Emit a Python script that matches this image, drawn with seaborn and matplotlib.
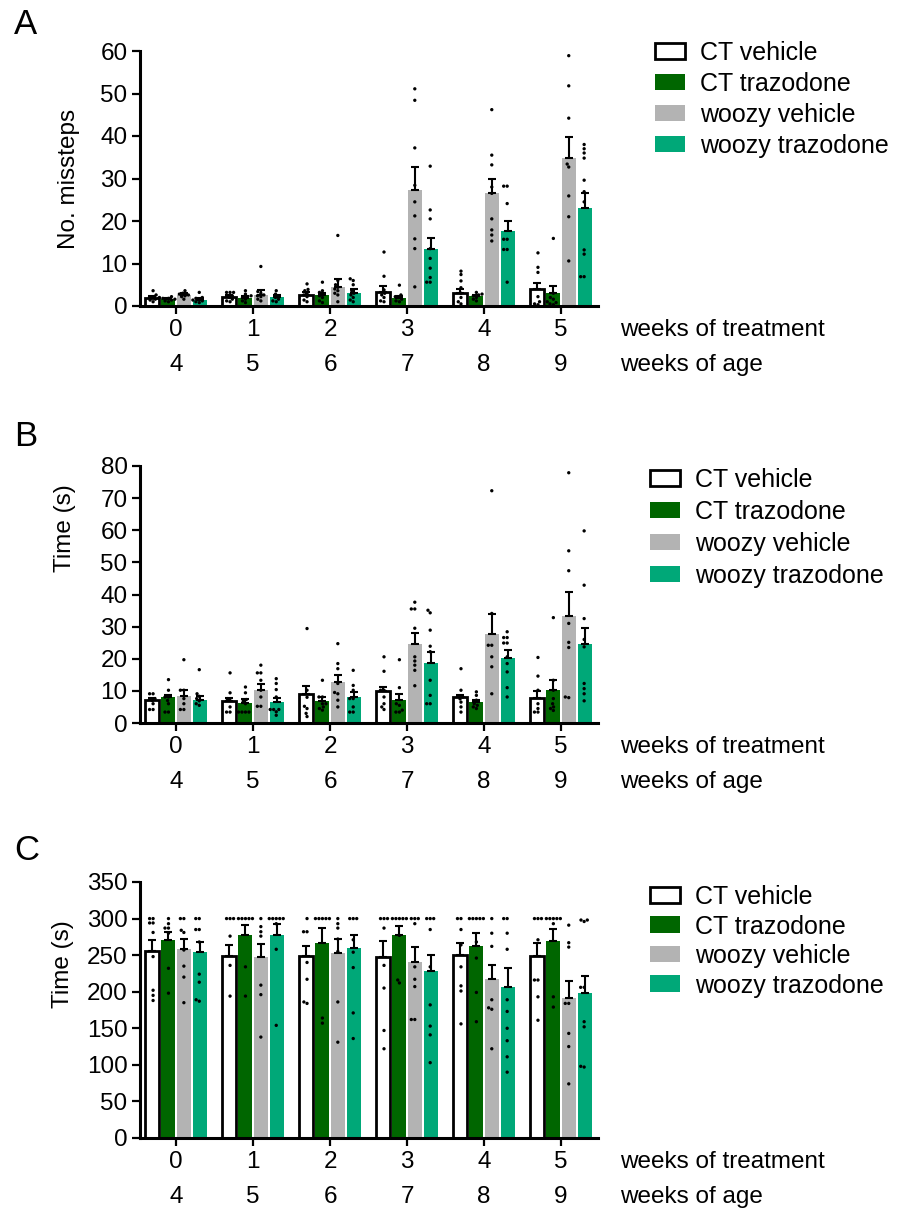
import numpy as np
import pandas as pd
import matplotlib
matplotlib.use("Agg")
import matplotlib.pyplot as plt
import seaborn as sns
from matplotlib.patches import Patch
from matplotlib import transforms as mtransforms
import warnings
warnings.filterwarnings("ignore")

sns.set_theme(style="ticks")
plt.rcParams['font.family'] = ['Liberation Sans', 'DejaVu Sans']
plt.rcParams['text.color'] = 'black'
plt.rcParams['axes.labelcolor'] = 'black'

GROUPS = ["CT vehicle", "CT trazodone", "woozy vehicle", "woozy trazodone"]
COLORS = ["#ffffff", "#006600", "#b3b3b3", "#00a878"]
WEEKS_TREATMENT = ["0", "1", "2", "3", "4", "5"]
WEEKS_AGE = ["4", "5", "6", "7", "8", "9"]

# ---------------- Panel A: No. missteps ----------------
A_MEAN_CT_VEH = [2.0, 2.2, 2.6, 3.4, 3.1, 4.0]
A_MEAN_CT_TRAZ = [1.6, 1.9, 2.6, 2.0, 2.4, 3.0]
A_MEAN_WZ_VEH = [2.6, 2.5, 4.5, 27.2, 26.5, 34.8]
A_MEAN_WZ_TRAZ = [1.4, 2.1, 3.1, 13.5, 17.7, 23.0]
A_SEM_CT_VEH = [0.4, 0.4, 0.6, 1.3, 1.0, 1.4]
A_SEM_CT_TRAZ = [0.3, 0.4, 0.5, 0.4, 0.3, 1.7]
A_SEM_WZ_VEH = [0.4, 1.2, 1.8, 5.4, 3.5, 5.0]
A_SEM_WZ_TRAZ = [0.4, 0.5, 1.0, 2.6, 2.2, 3.7]
A_PTS_CT_VEH = [
    [3.6, 2.6, 2.2, 2.2, 1.8, 1.4, 1.0, 1.6],
    [3.2, 3.2, 3.2, 2.4, 2.0, 1.6, 1.2, 1.0],
    [5.2, 3.9, 3.6, 3.0, 2.2, 1.4, 1.0, 2.6],
    [12.7, 7.0, 3.8, 3.0, 2.0, 1.0, 1.2, 2.6],
    [8.2, 7.4, 5.9, 4.3, 3.0, 2.0, 1.0, 0.5],
    [12.5, 9.1, 7.9, 2.2, 1.0, 0.5, 0.3],
]
A_PTS_CT_TRAZ = [
    [2.0, 1.8, 1.6, 1.4, 1.2, 2.2, 1.0, 1.8],
    [3.6, 2.8, 2.4, 2.0, 1.6, 1.2, 0.8, 2.2],
    [5.6, 3.2, 2.8, 2.4, 2.0, 1.2, 0.8, 3.6],
    [4.9, 2.6, 2.0, 1.6, 1.2, 1.0, 2.2],
    [3.2, 2.8, 2.4, 2.0, 1.6, 1.2, 2.6],
    [15.9, 3.0, 2.0, 1.0, 0.5, 0.8, 1.6, 0.3],
]
A_PTS_WZ_VEH = [
    [3.6, 3.0, 2.6, 2.2, 1.6, 2.8, 2.4],
    [9.3, 3.4, 3.0, 2.6, 2.2, 1.6, 1.2, 2.4],
    [16.6, 6.0, 5.0, 4.4, 4.0, 3.6, 3.0, 2.6, 1.0],
    [51.1, 48.4, 37.2, 28.4, 24.5, 21.2, 15.8, 13.5, 4.5],
    [46.2, 35.5, 33.2, 28.0, 26.5, 20.5, 17.9, 16.7, 15.3],
    [58.9, 51.8, 44.2, 33.4, 32.7, 25.9, 21.0, 10.6],
]
A_PTS_WZ_TRAZ = [
    [3.2, 2.0, 1.6, 1.2, 1.0, 0.8, 1.4, 1.8],
    [3.6, 2.8, 2.4, 2.0, 1.6, 1.2, 1.0],
    [6.4, 6.0, 5.0, 3.6, 3.0, 2.6, 2.0, 1.4, 1.0],
    [32.9, 22.6, 20.5, 13.5, 11.2, 8.9, 6.7, 5.6, 5.6],
    [28.2, 28.2, 24.1, 15.7, 15.7, 13.3, 13.3, 5.6],
    [38.0, 37.0, 36.0, 34.8, 29.6, 26.9, 24.5, 13.2, 12.2, 6.9, 6.9],
]

# ---------------- Panel B: Time (s) ----------------
B_MEAN_CT_VEH = [7.1, 6.9, 8.9, 10.0, 8.1, 7.9]
B_MEAN_CT_TRAZ = [8.1, 6.2, 6.9, 7.1, 6.5, 10.4]
B_MEAN_WZ_VEH = [8.4, 10.4, 12.8, 24.7, 27.6, 33.2]
B_MEAN_WZ_TRAZ = [7.3, 6.5, 8.1, 18.8, 20.3, 24.7]
B_SEM_CT_VEH = [0.8, 1.0, 2.7, 1.2, 0.7, 2.1]
B_SEM_CT_TRAZ = [0.5, 1.3, 1.2, 1.8, 0.8, 2.9]
B_SEM_WZ_VEH = [2.0, 1.7, 2.2, 3.4, 6.3, 7.6]
B_SEM_WZ_TRAZ = [1.0, 1.4, 1.6, 3.4, 2.3, 4.9]
B_PTS_CT_VEH = [
    [9.1, 9.1, 7.6, 7.0, 6.0, 4.2, 4.2],
    [15.6, 9.4, 7.6, 7.0, 5.0, 3.4, 3.4],
    [29.4, 10.2, 8.0, 5.2, 4.5, 3.0, 2.0],
    [20.6, 16.1, 10.2, 10.2, 8.1, 6.0, 4.2, 5.0],
    [16.9, 10.2, 8.1, 6.5, 5.0, 3.4, 7.5],
    [20.4, 14.6, 10.2, 6.0, 3.4, 3.4, 4.5],
]
B_PTS_CT_TRAZ = [
    [13.5, 10.2, 8.1, 8.1, 6.0, 3.4, 3.4, 7.0],
    [11.2, 9.4, 7.3, 6.0, 3.4, 3.4, 3.4, 3.4, 6.8],
    [13.3, 8.1, 8.1, 6.0, 6.0, 5.0, 4.5, 4.0],
    [19.7, 11.0, 6.0, 5.5, 3.4, 3.4, 4.0],
    [9.7, 8.6, 7.1, 6.0, 5.0, 4.5, 5.5],
    [32.8, 13.3, 10.2, 7.6, 6.0, 3.9, 5.0, 4.5],
]
B_PTS_WZ_VEH = [
    [19.7, 10.2, 10.2, 7.6, 6.0, 4.2, 4.2],
    [18.0, 15.6, 15.6, 13.3, 10.2, 8.1, 5.2, 5.2],
    [24.7, 18.5, 16.9, 12.3, 9.1, 7.1, 5.0, 9.5],
    [37.6, 35.5, 35.5, 29.5, 20.6, 19.3, 18.0, 16.4, 11.6],
    [72.3, 34.1, 24.2, 24.2, 20.6, 17.5, 9.1],
    [77.9, 53.6, 47.4, 31.0, 25.1, 23.5, 8.1, 7.9],
]
B_PTS_WZ_TRAZ = [
    [16.6, 9.1, 8.3, 7.6, 6.9, 6.0, 5.5],
    [13.8, 12.3, 10.4, 8.1, 4.2, 4.2, 4.2, 2.4, 3.5],
    [16.4, 11.7, 10.2, 7.6, 7.6, 5.0, 3.4, 3.4],
    [35.1, 34.3, 28.9, 23.9, 22.2, 13.3, 8.6, 6.0, 6.0],
    [28.4, 26.6, 26.6, 24.9, 24.9, 20.6, 18.5, 15.9, 11.0, 8.1],
    [59.8, 42.9, 32.5, 26.0, 23.7, 12.3, 10.7, 9.1, 6.9],
]

# ---------------- Panel C: Time (s) ----------------
C_MEAN_CT_VEH = [256.0, 248.7, 249.2, 247.4, 249.7, 248.7]
C_MEAN_CT_TRAZ = [270.6, 278.0, 266.5, 278.0, 262.9, 269.7]
C_MEAN_WZ_VEH = [257.9, 247.0, 252.4, 241.0, 217.7, 191.2]
C_MEAN_WZ_TRAZ = [253.8, 278.0, 259.7, 228.2, 206.8, 198.0]
C_SEM_CT_VEH = [14.6, 15.1, 13.7, 22.3, 16.8, 17.3]
C_SEM_CT_TRAZ = [10.4, 13.6, 20.1, 12.3, 17.8, 16.5]
C_SEM_WZ_VEH = [13.7, 18.0, 19.2, 19.6, 19.2, 23.3]
C_SEM_WZ_TRAZ = [14.6, 14.6, 17.3, 22.4, 25.1, 23.4]
C_PTS_CT_VEH = [
    [300, 300, 294, 294, 281, 248, 202, 195, 188],
    [300, 300, 300, 276, 236, 194],
    [300, 282, 282, 240, 217, 186, 184],
    [300, 300, 300, 287, 236, 205, 147, 122],
    [300, 300, 285, 264, 234, 208, 201, 156],
    [300, 300, 300, 271, 216, 216, 193, 161],
]
C_PTS_CT_TRAZ = [
    [300, 293, 287, 287, 280, 232, 198],
    [300, 300, 300, 300, 300, 234, 194],
    [300, 300, 300, 300, 300, 164, 157],
    [300, 300, 300, 300, 300, 277, 216, 212],
    [300, 300, 300, 300, 300, 268, 246, 199, 159],
    [300, 300, 300, 300, 300, 293, 193, 179],
]
C_PTS_WZ_VEH = [
    [300, 300, 284, 281, 257, 235, 220, 185],
    [300, 289, 282, 276, 209, 196, 138],
    [300, 293, 287, 272, 255, 186, 131],
    [300, 300, 300, 293, 234, 217, 207, 162, 162],
    [300, 280, 262, 189, 178, 176, 122],
    [291, 267, 261, 184, 184, 143, 125, 74],
]
C_PTS_WZ_TRAZ = [
    [300, 300, 285, 285, 268, 224, 213, 189, 187],
    [300, 300, 300, 300, 300, 293, 258, 154],
    [300, 300, 300, 271, 254, 233, 171, 136],
    [300, 300, 300, 285, 234, 182, 153, 141, 103],
    [300, 300, 280, 258, 189, 173, 150, 133, 111, 90],
    [298, 298, 296, 206, 206, 159, 152, 98, 97],
]

W, H = 897, 1208
fig = plt.figure(figsize=(W / 100, H / 100), dpi=100)
FS = 17.5
LFS = 18


def px_axes(left, top, right, bottom):
    return fig.add_axes([left / W, 1 - bottom / H, (right - left) / W, (bottom - top) / H])


def frames(means, sems, pts):
    mrows, prows = [], []
    for g, m, s, p in zip(GROUPS, means, sems, pts):
        for wi, wk in enumerate(WEEKS_TREATMENT):
            mrows.append({"week": wk, "group": g, "value": m[wi], "sem": s[wi]})
            for v in p[wi]:
                prows.append({"week": wk, "group": g, "value": v})
    return pd.DataFrame(mrows), pd.DataFrame(prows)


def panel(ax, means, sems, pts, ymax, ystep, ylabel, label_xy, letter, letter_y,
          leg_xy, leg_spacing):
    mdf, pdf = frames(means, sems, pts)
    sns.barplot(data=mdf, x="week", y="value", hue="group", order=WEEKS_TREATMENT,
                hue_order=GROUPS, palette=dict(zip(GROUPS, COLORS)), saturation=1,
                width=0.83, gap=0.15, errorbar=None, legend=False, ax=ax,
                linewidth=0, zorder=2)
    bar_conts = list(ax.containers)
    for i, cont in enumerate(bar_conts):
        xs = [p.get_x() + p.get_width() / 2 for p in cont]
        ys = [p.get_height() for p in cont]
        if i == 0:
            for p in cont:
                p.set_edgecolor("black")
                p.set_linewidth(2.0)
        ax.errorbar(xs, ys, yerr=[np.zeros(len(xs)), sems[i]], fmt="none",
                    ecolor="black", elinewidth=1.5, capsize=3, capthick=1.5, zorder=4)
    sns.swarmplot(data=pdf, x="week", y="value", hue="group", order=WEEKS_TREATMENT,
                  hue_order=GROUPS, dodge=True, palette=dict(zip(GROUPS, ["black"] * 4)),
                  size=2.4, legend=False, ax=ax, zorder=5)
    ax.set_xlim(-0.47, 5.48)
    ax.set_ylim(0, ymax)
    ax.set_yticks(np.arange(0, ymax + 0.1, ystep))
    ax.set_yticklabels([f"{int(v)}" for v in np.arange(0, ymax + 0.1, ystep)])
    ax.set_xticks(range(6))
    ax.set_xticklabels([])
    ax.set_xlabel("")
    ax.set_ylabel(ylabel, fontsize=FS, color="black")
    ax.yaxis.set_label_coords(*label_xy)
    for s in ["top", "right"]:
        ax.spines[s].set_visible(False)
    for s in ["left", "bottom"]:
        ax.spines[s].set_linewidth(2.2)
        ax.spines[s].set_color("black")
    ax.tick_params(axis="both", width=1.6, length=6, labelsize=FS, color="black",
                   labelcolor="black", direction="out", pad=3)
    blend = mtransforms.blended_transform_factory(ax.transData, ax.transAxes)
    t1 = mtransforms.offset_copy(blend, fig=fig, y=-24, units="dots")
    t2 = mtransforms.offset_copy(blend, fig=fig, y=-59, units="dots")
    for i, (a, b) in enumerate(zip(WEEKS_TREATMENT, WEEKS_AGE)):
        ax.text(i, 0, a, transform=t1, ha="center", va="center", fontsize=FS,
                color="black")
        ax.text(i, 0, b, transform=t2, ha="center", va="center", fontsize=FS,
                color="black")
    bl = mtransforms.blended_transform_factory(fig.transFigure, ax.transAxes)
    r1 = mtransforms.offset_copy(bl, fig=fig, y=-24, units="dots")
    r2 = mtransforms.offset_copy(bl, fig=fig, y=-59, units="dots")
    ax.text(620 / W, 0, "weeks of treatment", transform=r1, ha="left", va="center",
            fontsize=FS, color="black")
    ax.text(620 / W, 0, "weeks of age", transform=r2, ha="left", va="center",
            fontsize=FS, color="black")
    fig.text(14 / W, 1 - letter_y / H, letter, fontsize=25, ha="left", va="center",
             color="black")
    handles = []
    for i, (g, c) in enumerate(zip(GROUPS, COLORS)):
        if i == 0:
            handles.append(Patch(facecolor=c, edgecolor="black", linewidth=2, label=g))
        else:
            handles.append(Patch(facecolor=c, edgecolor=c, linewidth=0, label=g))
    leg = ax.legend(handles=handles, loc="upper left",
                    bbox_to_anchor=(leg_xy[0] / W, 1 - leg_xy[1] / H),
                    bbox_transform=fig.transFigure, frameon=False, fontsize=LFS,
                    handlelength=1.2, handleheight=0.64, labelspacing=leg_spacing,
                    handletextpad=0.6, borderpad=0, borderaxespad=0)
    for t in leg.get_texts():
        t.set_color("black")


axA = px_axes(140, 51, 598, 306)
panel(axA, [A_MEAN_CT_VEH, A_MEAN_CT_TRAZ, A_MEAN_WZ_VEH, A_MEAN_WZ_TRAZ],
      [A_SEM_CT_VEH, A_SEM_CT_TRAZ, A_SEM_WZ_VEH, A_SEM_WZ_TRAZ],
      [A_PTS_CT_VEH, A_PTS_CT_TRAZ, A_PTS_WZ_VEH, A_PTS_WZ_TRAZ],
      60, 10, "No. missteps", (-0.13, 0.5), "A", 25, (655, 41), 0.28)

axB = px_axes(140, 466, 598, 723)
panel(axB, [B_MEAN_CT_VEH, B_MEAN_CT_TRAZ, B_MEAN_WZ_VEH, B_MEAN_WZ_TRAZ],
      [B_SEM_CT_VEH, B_SEM_CT_TRAZ, B_SEM_WZ_VEH, B_SEM_WZ_TRAZ],
      [B_PTS_CT_VEH, B_PTS_CT_TRAZ, B_PTS_WZ_VEH, B_PTS_WZ_TRAZ],
      80, 10, "Time (s)", (-0.14, 0.76), "B", 437, (650, 468), 0.32)

axC = px_axes(140, 882, 598, 1138)
panel(axC, [C_MEAN_CT_VEH, C_MEAN_CT_TRAZ, C_MEAN_WZ_VEH, C_MEAN_WZ_TRAZ],
      [C_SEM_CT_VEH, C_SEM_CT_TRAZ, C_SEM_WZ_VEH, C_SEM_WZ_TRAZ],
      [C_PTS_CT_VEH, C_PTS_CT_TRAZ, C_PTS_WZ_VEH, C_PTS_WZ_TRAZ],
      350, 50, "Time (s)", (-0.145, 0.68), "C", 850, (650, 885), 0.22)

fig.savefig("out.png", dpi=100, facecolor="white")
